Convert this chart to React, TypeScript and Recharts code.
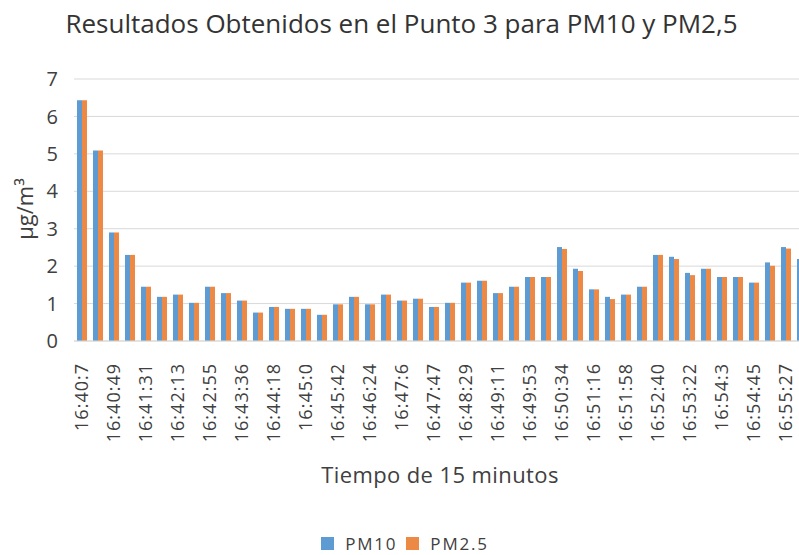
import { BarChart, Bar, XAxis, YAxis, CartesianGrid, Legend } from "recharts";

const times = [
  "16:40:7", "16:40:28", "16:40:49", "16:41:10", "16:41:31", "16:41:52",
  "16:42:13", "16:42:34", "16:42:55", "16:43:15", "16:43:36", "16:43:57",
  "16:44:18", "16:44:39", "16:45:0", "16:45:21", "16:45:42", "16:46:3",
  "16:46:24", "16:46:45", "16:47:6", "16:47:26", "16:47:47", "16:48:8",
  "16:48:29", "16:48:50", "16:49:11", "16:49:32", "16:49:53", "16:50:13",
  "16:50:34", "16:50:55", "16:51:16", "16:51:37", "16:51:58", "16:52:19",
  "16:52:40", "16:53:1", "16:53:22", "16:53:42", "16:54:3", "16:54:24",
  "16:54:45", "16:55:6", "16:55:27", "16:55:48",
];

const pm10 = [
  6.43, 5.09, 2.9, 2.3, 1.45, 1.18, 1.24, 1.02, 1.45, 1.28, 1.08, 0.76,
  0.91, 0.86, 0.86, 0.7, 0.98, 1.18, 0.98, 1.24, 1.08, 1.13, 0.91, 1.02,
  1.56, 1.61, 1.28, 1.45, 1.71, 1.71, 2.51, 1.93, 1.38, 1.18, 1.24, 1.45,
  2.3, 2.25, 1.82, 1.93, 1.71, 1.71, 1.56, 2.1, 2.51, 2.19,
];

const pm25 = [
  6.43, 5.09, 2.9, 2.3, 1.45, 1.18, 1.24, 1.02, 1.45, 1.28, 1.08, 0.76,
  0.91, 0.86, 0.86, 0.7, 0.98, 1.18, 0.98, 1.24, 1.08, 1.13, 0.91, 1.02,
  1.56, 1.61, 1.28, 1.45, 1.71, 1.71, 2.46, 1.87, 1.38, 1.12, 1.24, 1.45,
  2.3, 2.19, 1.76, 1.93, 1.71, 1.71, 1.56, 2.01, 2.47, 2.15,
];

const yTicks = [0, 1, 2, 3, 4, 5, 6, 7];

const data = times.map((t, i) => ({ time: t, pm10: pm10[i], pm25: pm25[i] }));

const FONT = "'Open Sans', 'Noto Sans', sans-serif";
const TEXT = "#404040";

function TimeTick({ x, y, payload }: any) {
  const ty = y + 14;
  return (
    <text
      x={x}
      y={ty}
      transform={`rotate(-90 ${x} ${ty})`}
      textAnchor="end"
      dy="0.36em"
      fill={TEXT}
      fontSize={18}
      letterSpacing={1}
      fontFamily={FONT}
    >
      {payload.value}
    </text>
  );
}

function LegendBox({ payload }: any) {
  return (
    <div
      style={{
        height: 26,
        boxSizing: "border-box",
        paddingTop: 3,
        display: "flex",
        justifyContent: "center",
        alignItems: "center",
        fontFamily: FONT,
      }}
    >
      {(payload || []).map((p: any, i: number) => (
        <div key={i} style={{ display: "flex", alignItems: "center", marginLeft: i ? 9 : 0 }}>
          <span style={{ width: 13, height: 13, background: p.color, display: "inline-block" }} />
          <span
            style={{
              marginLeft: 11,
              color: TEXT,
              fontSize: 17,
              lineHeight: "23px",
              letterSpacing: 1.8,
            }}
          >
            {p.value}
          </span>
        </div>
      ))}
    </div>
  );
}

export default function App() {
  return (
    <div
      style={{
        position: "fixed",
        left: 0,
        top: 0,
        width: 799,
        height: 555,
        overflow: "hidden",
        background: "#fff",
        fontFamily: FONT,
      }}
    >
      <div
        style={{
          position: "absolute",
          top: 5,
          left: 0,
          width: 803,
          textAlign: "center",
          fontSize: 26,
          color: "#333",
        }}
      >
        Resultados Obtenidos en el Punto 3 para PM10 y PM2,5
      </div>
      <BarChart
        width={812}
        height={555}
        data={data}
        margin={{ top: 79, right: 2, left: 0, bottom: 0 }}
        barGap={0}
        barSize={5}
      >
        <CartesianGrid vertical={false} stroke="#d9d9d9" />
        <XAxis
          dataKey="time"
          interval={1}
          tickLine={false}
          axisLine={{ stroke: "#d9d9d9" }}
          tick={<TimeTick />}
          height={188}
          label={(props: any) => {
            const vb = props.viewBox;
            return (
              <text
                x={440}
                y={vb.y + 142}
                textAnchor="middle"
                fill={TEXT}
                fontSize={22}
                fontFamily={FONT}
                letterSpacing={0.4}
              >
                Tiempo de 15 minutos
              </text>
            );
          }}
        />
        <YAxis
          type="number"
          domain={[0, 7]}
          ticks={yTicks}
          width={74}
          tickLine={false}
          axisLine={false}
          tickMargin={10}
          tick={{ fill: TEXT, fontSize: 20, fontFamily: FONT }}
          label={(props: any) => {
            const vb = props.viewBox;
            const cx = 25;
            const cy = vb.y + vb.height / 2 - 1;
            return (
              <text
                x={cx}
                y={cy}
                transform={`rotate(-90 ${cx} ${cy})`}
                textAnchor="middle"
                dy="0.35em"
                fill={TEXT}
                fontSize={22}
                fontFamily={FONT}
              >
                μg/m³
              </text>
            );
          }}
        />
        <Legend verticalAlign="bottom" content={<LegendBox />} />
        <Bar dataKey="pm10" name="PM10" fill="#5f9bd3" isAnimationActive={false} />
        <Bar dataKey="pm25" name="PM2.5" fill="#ec8a45" isAnimationActive={false} />
      </BarChart>
    </div>
  );
}
